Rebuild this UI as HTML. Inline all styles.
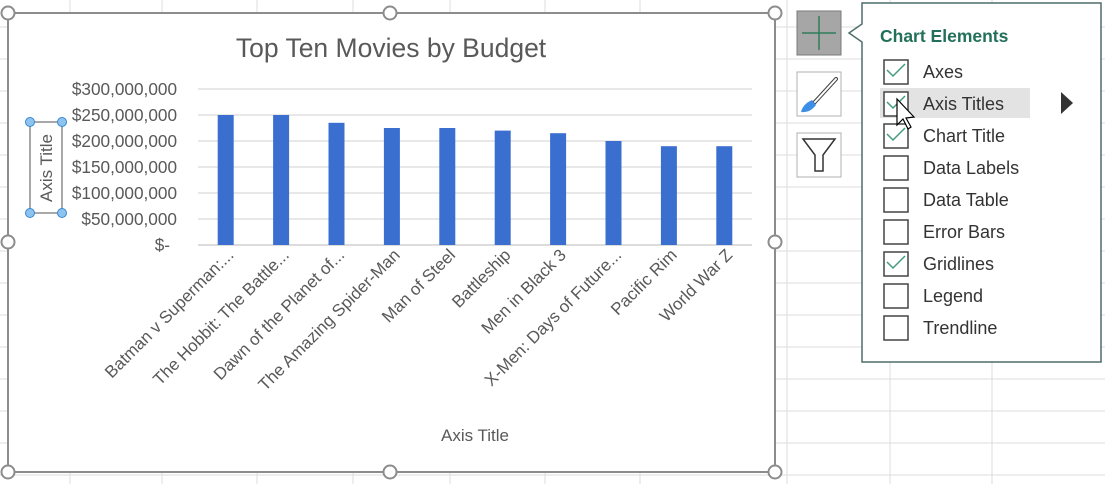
<!DOCTYPE html>
<html><head><meta charset="utf-8"><style>
body{margin:0;width:1105px;height:484px;overflow:hidden;background:#fff;font-family:"Liberation Sans",sans-serif;}
#wrap{position:relative;width:1105px;height:484px;}
svg{position:absolute;left:0;top:0;}
</style></head><body><div id="wrap">
<svg id="s" width="1105" height="484"></svg>
</div>
<script>
const categories=["Batman v Superman:...","The Hobbit: The Battle...","Dawn of the Planet of...","The Amazing Spider-Man","Man of Steel","Battleship","Men in Black 3","X-Men: Days of Future...","Pacific Rim","World War Z"];
const budgets=[250000000,250000000,235000000,225000000,225000000,220000000,215000000,200000000,190000000,190000000];
const yTicks=[0,50000000,100000000,150000000,200000000,250000000,300000000];
const yTickLabels=["$-","$50,000,000","$100,000,000","$150,000,000","$200,000,000","$250,000,000","$300,000,000"];
const menuItems=["Axes","Axis Titles","Chart Title","Data Labels","Data Table","Error Bars","Gridlines","Legend","Trendline"];
const menuChecked=[true,true,true,false,false,false,true,false,false];

const NS="http://www.w3.org/2000/svg";
const svg=document.getElementById('s');
function mk(tag,attrs,parent,text){const e=document.createElementNS(NS,tag);for(const k in attrs)e.setAttribute(k,attrs[k]);if(text!=null)e.textContent=text;(parent||svg).appendChild(e);return e;}
for(let x of [70,162,257,353,450,545,640,787,890,992]){const l=mk('line',{x1:x,y1:0,x2:x,y2:484,stroke:'#dcdcdc','stroke-width':1});}
for(let y=27;y<484;y+=32){const l=mk('line',{x1:0,y1:y,x2:1105,y2:y,stroke:'#dcdcdc','stroke-width':1});}
const ca=mk('rect',{x:8,y:13,width:767,height:459,fill:'#fff',stroke:'#8c8c8c','stroke-width':2});

const t=mk('text',{x:391,y:57,'text-anchor':'middle','font-size':26.5,fill:'#595959'},svg,'Top Ten Movies by Budget');

const x0=198,x1=752,yBase=245,yTop=89,yMax=300000000;
const yS=v=>yBase-(v/yMax)*(yBase-yTop);
const band=(x1-x0)/categories.length;
const xS=i=>x0+band*(i+0.5);
yTicks.forEach((v,i)=>{
 const g=mk('line',{x1:x0,x2:x1,y1:yS(v),y2:yS(v),stroke:i==0?'#d0d0d0':'#e0e0e0','stroke-width':1.5});
 
 const lb=mk('text',{x:i==0?170:177,y:yS(v)+6,'text-anchor':'end','font-size':17.2,fill:'#595959'},svg,yTickLabels[i]);
 
});
budgets.forEach((v,i)=>{
 const b=mk('rect',{x:xS(i)-8,y:yS(v),width:16,height:yBase-yS(v),fill:'#3a6fd0'});
 
 const cx=xS(i)+9,cy=256;
 const lb=mk('text',{x:cx,y:cy,'text-anchor':'end','font-size':17,fill:'#595959',transform:`rotate(-45 ${cx} ${cy})`},svg,categories[i]);
 
});
const xt=mk('text',{x:475,y:441,'text-anchor':'middle','font-size':17,fill:'#595959'},svg,'Axis Title');

const yb=mk('rect',{x:30,y:122,width:32,height:91,fill:'none',stroke:'#8c8c8c','stroke-width':1.5});

const yt=mk('text',{x:52,y:168,'text-anchor':'middle','font-size':17,fill:'#595959',transform:'rotate(-90 52 168)'},svg,'Axis Title');

for(const [x,y] of [[30,122],[62,122],[30,213],[62,213]]){const h=mk('circle',{cx:x,cy:y,r:4.5,fill:'#8dc3f0',stroke:'#3a86d0','stroke-width':1});}
for(const [x,y] of [[8,13],[390,13],[775,13],[8,242],[775,242],[8,472],[390,472],[775,472]]){const h=mk('circle',{cx:x,cy:y,r:6.5,fill:'#fff',stroke:'#8c8c8c','stroke-width':2});}
const pb=mk('rect',{x:797,y:11,width:44,height:44,fill:'#a6a6a6',stroke:'#7a7a7a'});
mk('path',{d:'M819 16 V50 M802 33 H836',stroke:'#2e7d5b','stroke-width':1.5,fill:'none'});
const bb=mk('rect',{x:797,y:72,width:44,height:44,fill:'#fff',stroke:'#b0b0b0'});
mk('path',{d:'M836 79 L814 103',stroke:'#444','stroke-width':4,'stroke-linecap':'round'});
mk('path',{d:'M836 79 L815 102',stroke:'#fff','stroke-width':2,'stroke-linecap':'round'});
mk('path',{d:'M812 100 Q803 104 801 112 Q810 113 816 105 Z',fill:'#3d8ee6'});
const fb=mk('rect',{x:797,y:133,width:44,height:44,fill:'#fff',stroke:'#b0b0b0'});
mk('path',{d:'M803 139 H835 L823 155 V171 H815 V155 Z',fill:'none',stroke:'#333','stroke-width':1.5});
const pn=mk('path',{d:'M862 3 H1101 V362 H862 V42 L849 33 L862 24 Z',fill:'#fff',stroke:'#4f6e6a','stroke-width':1.5});

const ph=mk('text',{x:880,y:42,'font-size':17.5,'font-weight':'bold',fill:'#22705a'},svg,'Chart Elements');

mk('rect',{x:880,y:88,width:150,height:30,fill:'#e3e3e3'});
menuItems.forEach((m,i)=>{
 const cy=72+32*i;
 const cb=mk('rect',{x:884,y:cy-12,width:24,height:24,fill:'#fff',stroke:'#444','stroke-width':1.5});
 
 if(menuChecked[i])mk('path',{d:`M887 ${cy-2} L893 ${cy+4} L905 ${cy-8}`,fill:'none',stroke:'#3f9a7e','stroke-width':1.5});
 const lb=mk('text',{x:923,y:cy+6,'font-size':18,fill:'#333'},svg,m);
 
});
const ar=mk('path',{d:'M1061 92 L1073 103 L1061 114 Z',fill:'#333'});
const cur=mk('path',{d:'M897 99 L897 125 L903 119 L908 129 L911 127 L906 118 L914 117 Z',fill:'#fff',stroke:'#000','stroke-width':1.2});

</script></body></html>
